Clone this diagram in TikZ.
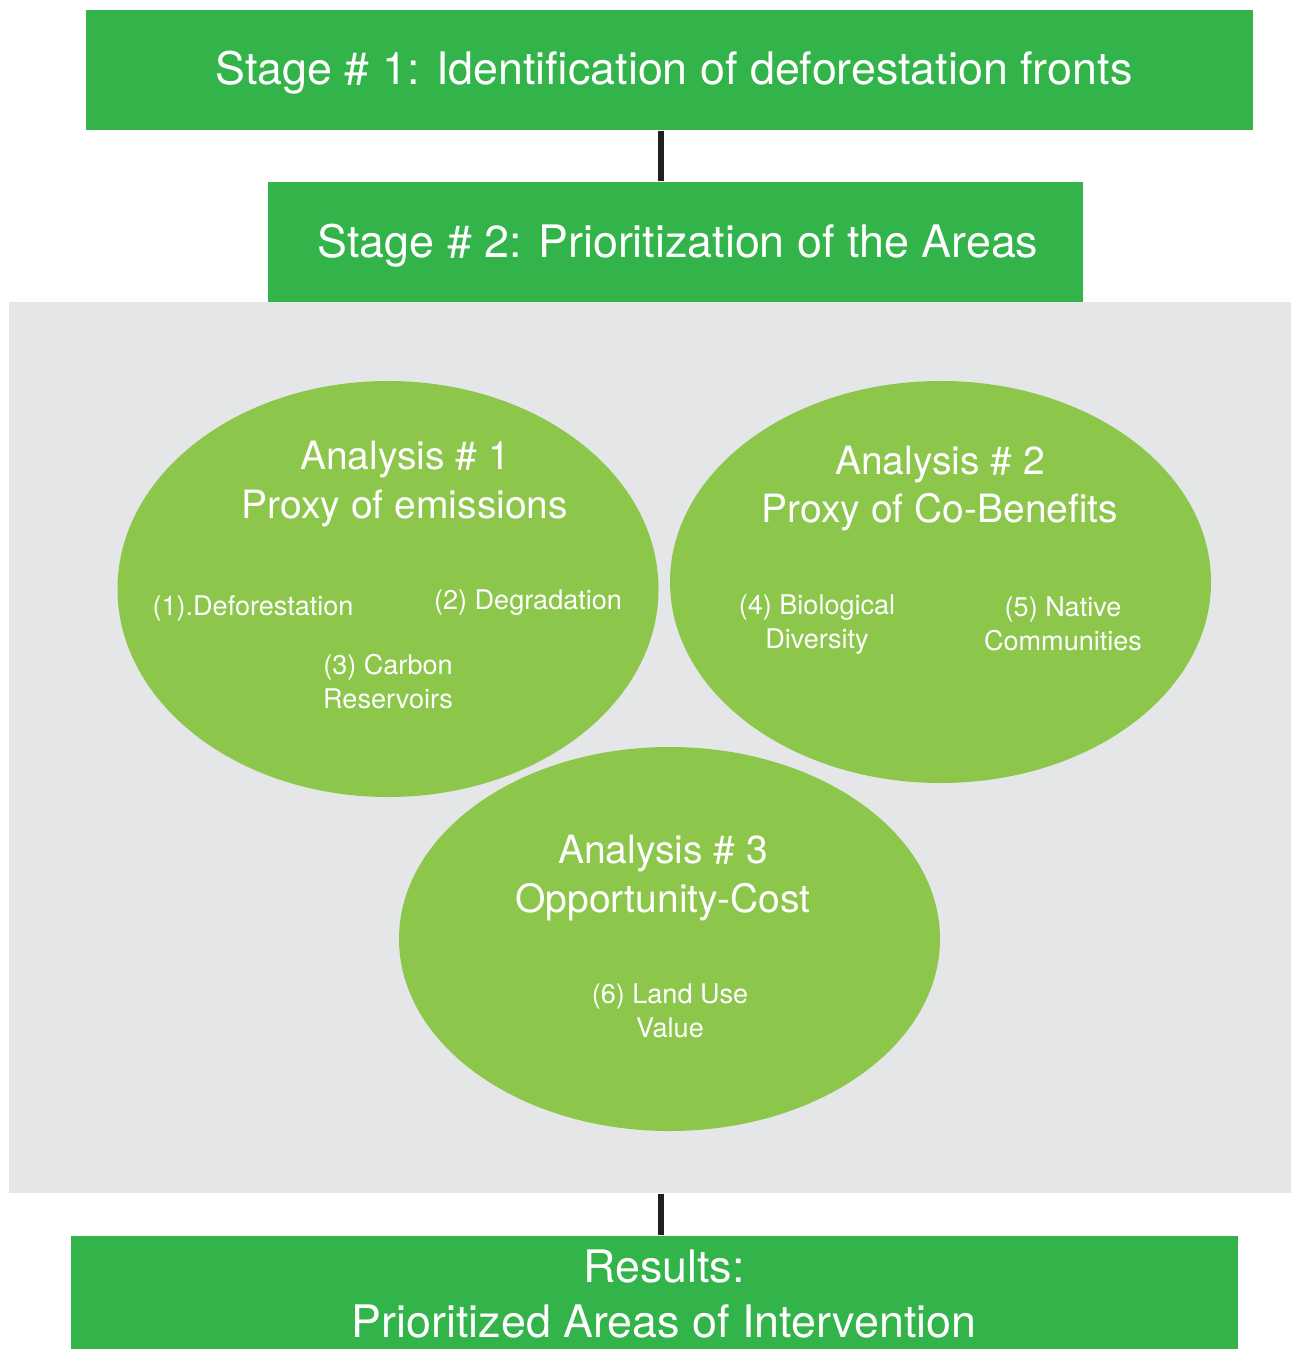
\documentclass[tikz,border=0pt]{standalone}
\usepackage{fontspec}
\setmainfont{TeX Gyre Heros}
\usetikzlibrary{shapes.geometric, positioning, calc}
\definecolor{verdeEtapa}{HTML}{33B44A}
\definecolor{verdeAnalisis}{HTML}{8CC64B}
\definecolor{grisPanel}{HTML}{E5E6E8}
\definecolor{grisLinea}{HTML}{231F20}

\begin{document}
\begin{tikzpicture}[
        stage/.style={fill=verdeEtapa, text=white, inner sep=0pt, align=center,
            font=\fontsize{12.75}{15.4}\selectfont},
        panel/.style={fill=grisPanel, inner sep=0pt},
        analysis/.style={ellipse, fill=verdeAnalisis, inner sep=0pt, minimum width=5.41cm},
        title/.style={text=white, align=center, font=\fontsize{11.1}{13.8}\selectfont},
        item/.style={text=white, align=center, font=\fontsize{7.7}{9.7}\selectfont},
        link/.style={draw=grisLinea, line width=1.7pt}]
        \useasboundingbox (0,0) rectangle (12.91,-13.49);
        % etapas y panel de analisis
        \node[panel, minimum width=12.82cm, minimum height=8.91cm] (panel) at (6.50,-7.475) {};
        \node[stage, minimum width=11.67cm, minimum height=1.20cm] (s1) at (6.695,-0.70) {};
        \node[stage] (s1txt) at (6.74,-0.73) {Stage \# 1: Identification of deforestation fronts};
        \node[stage, minimum width=8.15cm, minimum height=1.20cm] (s2) at (6.755,-2.42) {};
        \node[stage] (s2txt) at (6.78,-2.46) {Stage \# 2: Prioritization of the Areas};
        \node[stage, minimum width=11.67cm, minimum height=1.13cm] (res) at (6.545,-12.925) {};
        \node[stage] (restxt) at (6.64,-12.94) {Results:\\Prioritized Areas of Intervention};
        \coordinate (gap) at (6.61,0);
        \draw[link] (s1.south -| gap) -- (s2.north -| gap);
        \draw[link] (panel.south -| gap) -- (res.north -| gap);
        % elipses
        \node[analysis, minimum height=4.16cm] (a1) at (3.88,-5.89) {};
        \node[analysis, minimum height=4.02cm] (a2) at (9.405,-5.82) {};
        \node[analysis, minimum height=3.84cm] (a3) at (6.695,-9.39) {};
        \node[title] (t1) at (4.05,-4.84) {Analysis \# 1\\Proxy of emissions};
        \node[item] (i1) at (2.53,-6.08) {(1).Deforestation};
        \node[item] (i2) at (5.28,-6.03) {(2) Degradation};
        \node[item] (i3) at (3.88,-6.82) {(3) Carbon\\Reservoirs};
        \node[title] (t2) at (9.40,-4.885) {Analysis \# 2\\Proxy of Co-Benefits};
        \node[item] (i4) at (8.17,-6.25) {(4) Biological\\Diversity};
        \node[item] (i5) at (10.63,-6.24) {(5) Native\\Communities};
        \node[title] (t3) at (6.63,-8.78) {Analysis \# 3\\Opportunity-Cost};
        \node[item] (i6) at (6.70,-10.11) {(6) Land Use\\Value};
    \end{tikzpicture}
\end{document}
